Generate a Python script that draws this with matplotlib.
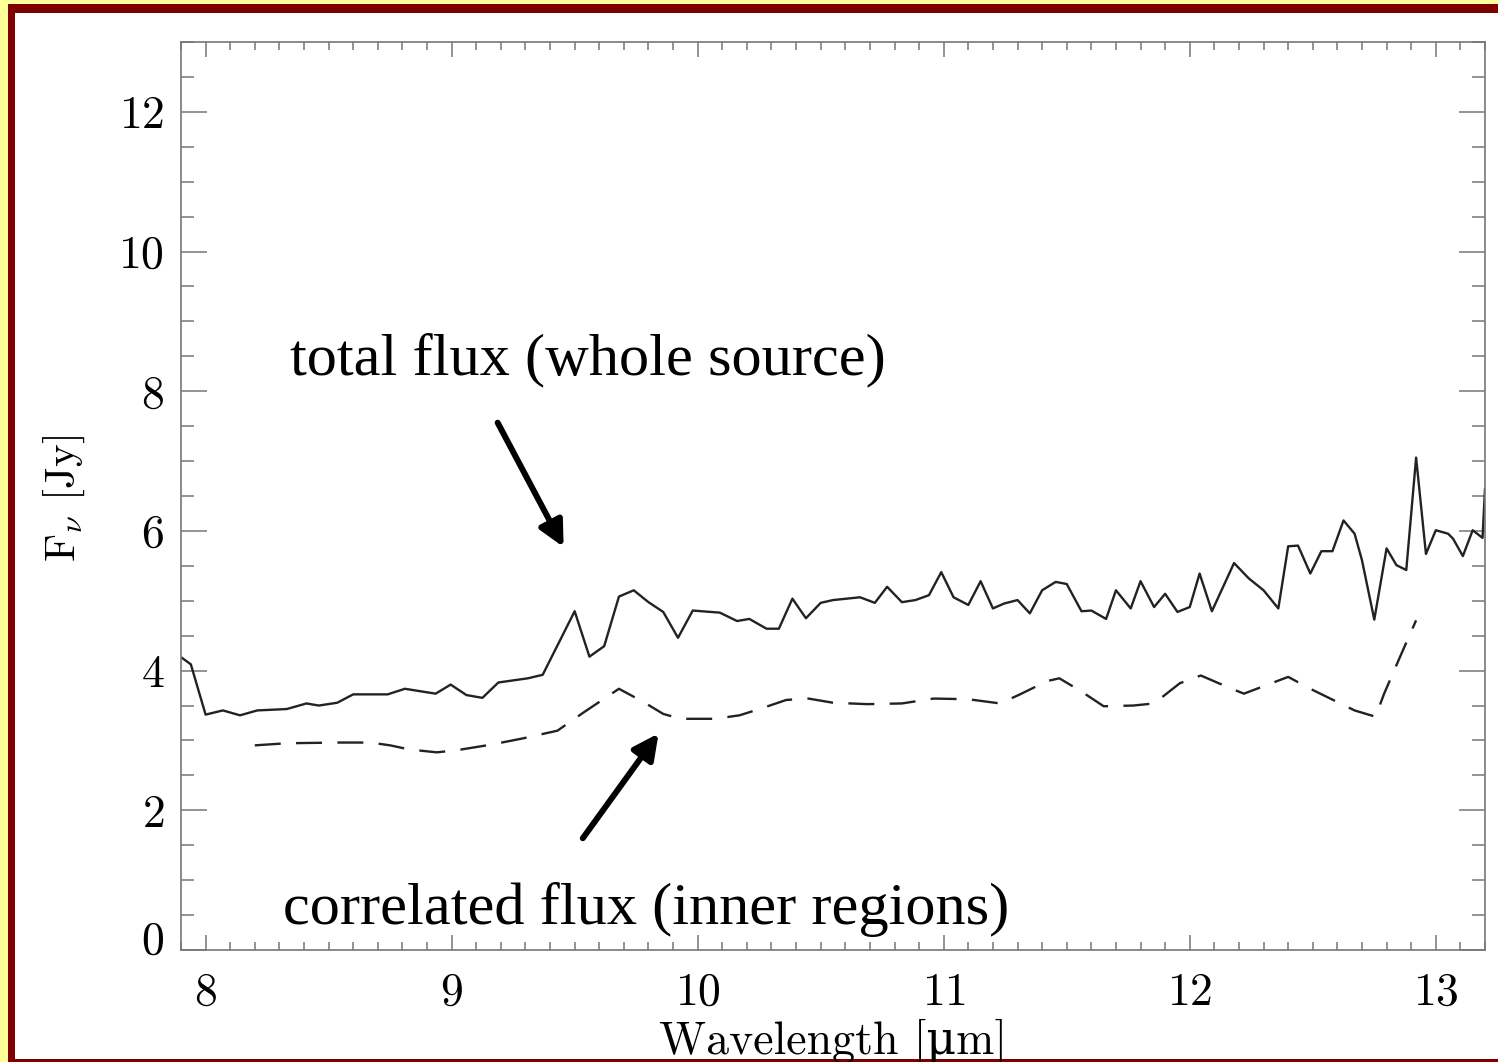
import matplotlib

matplotlib.use("Agg")
import matplotlib.pyplot as plt
from matplotlib.patches import Rectangle
from matplotlib.ticker import MultipleLocator
from matplotlib.transforms import ScaledTranslation

# total flux spectrum (solid)
total_wl = [7.905, 7.94, 8.00, 8.07, 8.14, 8.21, 8.33, 8.41, 8.46, 8.535, 8.60, 8.74, 8.81,
            8.935, 8.996, 9.06, 9.125, 9.19, 9.31, 9.37, 9.50, 9.56, 9.62, 9.68, 9.74, 9.80,
            9.86, 9.92, 9.98, 10.09, 10.16, 10.21, 10.28, 10.33, 10.385, 10.44, 10.50, 10.55,
            10.66, 10.72, 10.77, 10.83, 10.885, 10.94, 10.99, 11.04, 11.10, 11.15, 11.20,
            11.245, 11.30, 11.35, 11.40, 11.455, 11.50, 11.56, 11.60, 11.66, 11.70, 11.76,
            11.80, 11.855, 11.90, 11.95, 12.00, 12.04, 12.09, 12.18, 12.24, 12.30, 12.36,
            12.40, 12.44, 12.49, 12.535, 12.58, 12.625, 12.67, 12.70, 12.75, 12.80, 12.84,
            12.88, 12.92, 12.96, 13.00, 13.05, 13.07, 13.11, 13.15, 13.19, 13.20]
total_flux = [4.18, 4.09, 3.37, 3.43, 3.36, 3.43, 3.45, 3.53, 3.50, 3.54, 3.66, 3.66, 3.74,
              3.67, 3.80, 3.65, 3.61, 3.83, 3.89, 3.94, 4.85, 4.20, 4.35, 5.06, 5.15, 4.98,
              4.84, 4.47, 4.86, 4.83, 4.71, 4.74, 4.60, 4.60, 5.03, 4.75, 4.97, 5.01,
              5.05, 4.97, 5.20, 4.98, 5.01, 5.08, 5.41, 5.05, 4.94, 5.28, 4.89,
              4.96, 5.01, 4.82, 5.15, 5.27, 5.24, 4.85, 4.86, 4.74, 5.15, 4.89,
              5.28, 4.91, 5.10, 4.84, 4.91, 5.39, 4.85, 5.54, 5.32, 5.15, 4.89,
              5.78, 5.79, 5.39, 5.71, 5.71, 6.15, 5.96, 5.58, 4.73, 5.75, 5.51,
              5.44, 7.05, 5.67, 6.01, 5.96, 5.89, 5.64, 6.01, 5.90, 6.60]

# correlated flux spectrum (dashed)
corr_wl = [8.20, 8.33, 8.535, 8.67, 8.75, 8.83, 8.94, 9.02, 9.16, 9.29, 9.43, 9.54, 9.68,
           9.78, 9.86, 9.93, 10.07, 10.17, 10.26, 10.36, 10.45, 10.55, 10.69, 10.83, 10.96,
           11.10, 11.23, 11.31, 11.42, 11.47, 11.56, 11.65, 11.77, 11.855, 11.96, 12.045,
           12.15, 12.22, 12.31, 12.40, 12.49, 12.60, 12.67, 12.755, 12.79, 12.86, 12.92]
corr_flux = [2.93, 2.96, 2.97, 2.97, 2.93, 2.87, 2.83, 2.86, 2.94, 3.03, 3.14, 3.41, 3.74,
             3.55, 3.38, 3.31, 3.31, 3.36, 3.46, 3.58, 3.60, 3.54, 3.52, 3.53, 3.60,
             3.59, 3.53, 3.66, 3.85, 3.89, 3.70, 3.49, 3.50, 3.53, 3.82, 3.93,
             3.77, 3.67, 3.79, 3.91, 3.74, 3.55, 3.43, 3.34, 3.67, 4.24, 4.72]

x_ticks = [8, 9, 10, 11, 12, 13]
y_ticks = [0, 2, 4, 6, 8, 10, 12]

plt.rcParams["mathtext.fontset"] = "cm"
plt.rcParams["axes.formatter.use_mathtext"] = True

W, H = 1498, 1062
fig = plt.figure(figsize=(W / 100, H / 100), dpi=100, facecolor="white")

# slide-style frame: yellow outer band, dark red inner rule
def px_rect(x0, y0, x1, y1, color):
    fig.add_artist(Rectangle((x0 / W, 1 - y1 / H), (x1 - x0) / W, (y1 - y0) / H,
                             transform=fig.transFigure, color=color, lw=0, zorder=-5))

yellow, red = "#ffff99", "#800000"
px_rect(0, 0, 8, H, yellow)
px_rect(0, 0, W, 4, yellow)
px_rect(8, 4, 15, H, red)
px_rect(8, 4, W, 13, red)
px_rect(8, 1059, W, H, red)

ax = fig.add_axes([181 / W, 1 - 950 / H, (1485 - 181) / W, (950 - 42) / H])
ax.set_facecolor("none")

ax.plot(total_wl, total_flux, color="#222222", lw=1.7)
ax.plot(corr_wl, corr_flux, color="#222222", lw=1.7, linestyle=(0, (11, 6.5)))

ax.set_xlim(7.9, 13.2)
ax.set_ylim(0, 13)
ax.set_xticks(x_ticks)
ax.set_yticks(y_ticks)
ax.xaxis.set_minor_locator(MultipleLocator(0.1))
ax.yaxis.set_minor_locator(MultipleLocator(0.5))

for s in ax.spines.values():
    s.set_color("#777777")
    s.set_linewidth(1.2)

tick_font = ["cmr10", "DejaVu Serif"]
ax.tick_params(axis="both", which="both", direction="in", top=True, right=True,
               colors="#777777", labelcolor="black", width=1.1)
ax.tick_params(axis="x", which="major", length=11, pad=16, labelsize=33)
ax.tick_params(axis="x", which="minor", length=6)
ax.tick_params(axis="y", which="major", length=19, pad=12, labelsize=33)
ax.tick_params(axis="y", which="minor", length=9.5)
for lab in ax.get_xticklabels() + ax.get_yticklabels():
    lab.set_family(tick_font)

# lift the "0" label a little off the corner
zero_lab = ax.yaxis.get_major_ticks()[0].label1
zero_lab.set_transform(zero_lab.get_transform() + ScaledTranslation(0, 9 / 72, fig.dpi_scale_trans))

ax.set_xlabel("Wavelength [\u03bcm]", fontsize=33, family=tick_font, va="top")
ax.xaxis.set_label_coords(0.5, -0.076)
ax.set_ylabel(r"F$_\nu$ [Jy]", fontsize=31, family=tick_font)
ax.yaxis.set_label_coords(-0.072, 0.497)

note_font = "Liberation Serif"
ax.text(8.345, 8.24, "total flux (whole source)", fontsize=43.5, family=note_font,
        va="baseline", ha="left")
ax.text(8.313, 0.37, "correlated flux (inner regions)", fontsize=43.5, family=note_font,
        va="baseline", ha="left")

arrow = dict(arrowstyle="-|>", lw=4.3, color="black", mutation_scale=38, shrinkA=0, shrinkB=0)
ax.annotate("", xy=(9.455, 5.77), xytext=(9.187, 7.55), arrowprops=arrow)
ax.annotate("", xy=(9.841, 3.10), xytext=(9.533, 1.60), arrowprops=arrow)

fig.savefig("out.png", dpi=100, facecolor=fig.get_facecolor())
